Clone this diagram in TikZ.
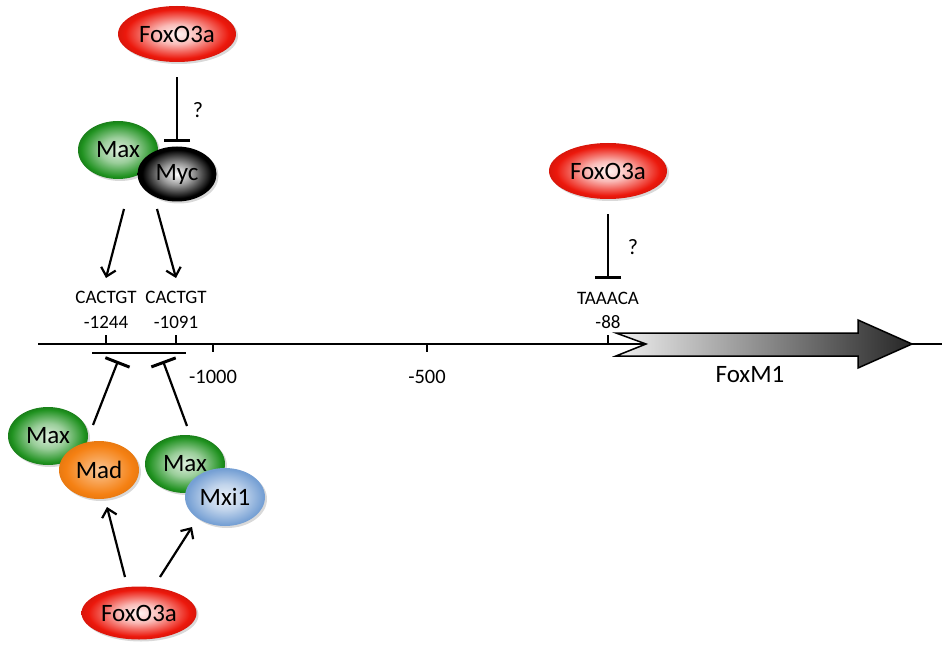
\documentclass[tikz,border=0pt]{standalone}
\usepackage{fontspec}
\setmainfont{Carlito}
\usetikzlibrary{positioning,calc}
\usetikzlibrary{shapes.geometric}
\usetikzlibrary{shadows}
\usetikzlibrary{arrows.meta}

\definecolor{foxred}{RGB}{236,24,12}
\definecolor{maxgreen}{RGB}{30,145,30}
\definecolor{madorange}{RGB}{245,128,18}
\definecolor{mxiblue}{RGB}{118,160,212}

% soft glow in the middle of each protein
\pgfdeclareradialshading{redglow}{\pgfpointorigin}{color(0bp)=(foxred!5!white);
   color(9bp)=(foxred!30!white); color(22bp)=(foxred); color(25bp)=(foxred!92!black);
   color(50bp)=(foxred!92!black)}
\pgfdeclareradialshading{blackglow}{\pgfpointorigin}{color(0bp)=(white);
   color(10bp)=(black!40); color(22bp)=(black); color(50bp)=(black)}
\pgfdeclareradialshading{greenglow}{\pgfpointorigin}{color(0bp)=(maxgreen!15!white);
   color(11bp)=(maxgreen!45!white); color(23bp)=(maxgreen); color(25bp)=(maxgreen!88!black);
   color(50bp)=(maxgreen!88!black)}
\pgfdeclareradialshading{orangeglow}{\pgfpointorigin}{color(0bp)=(madorange!45!white);
   color(21bp)=(madorange); color(25bp)=(madorange!95!black); color(50bp)=(madorange!95!black)}
\pgfdeclareradialshading{blueglow}{\pgfpointorigin}{color(0bp)=(mxiblue!15!white);
   color(11bp)=(mxiblue!45!white); color(24bp)=(mxiblue); color(50bp)=(mxiblue)}

\tikzset{
   prot/.style={ellipse, inner sep=0pt, minimum width=80pt, minimum height=58pt,
      font=\fontsize{25}{29}\selectfont,
      drop shadow={shadow xshift=2pt, shadow yshift=-2pt, opacity=0.3}},
   fox/.style={prot, minimum width=118pt, minimum height=56pt, shading=redglow},
   maxp/.style={prot, shading=greenglow},
   mycp/.style={prot, minimum width=79pt, minimum height=55pt, shading=blackglow},
   madp/.style={prot, shading=orangeglow},
   mxip/.style={prot, shading=blueglow},
   act/.style={line width=2.2pt, -{Straight Barb[length=8pt,width=15pt]}},
   inhib/.style={line width=2.2pt, -{Bar[width=26pt,line width=3pt]}},
   site/.style={font=\fontsize{19}{22}\selectfont, inner sep=0pt},
   bplabel/.style={font=\fontsize{20.5}{24}\selectfont, inner sep=0pt},
   ln/.style={line width=1.8pt},
}

\begin{document}
\begin{tikzpicture}[x=1pt, y=-1pt, on grid]
   \useasboundingbox (0,0) rectangle (945,655);

   % promoter line
   \coordinate (l0) at (38,344);
   \coordinate (l1) at (942,344);
   \draw[ln] (l0) -- (l1);
   \foreach \x in {106,176,608}
      \draw[ln] (\x,344) -- (\x,335);
   \foreach \x in {213,427}
      \draw[ln] (\x,344) -- (\x,352);
   \draw[ln] (92,353) -- (186,353);

   % FoxM1 gene
   \draw[line width=1.5pt, left color=gray!12, right color=black!85]
      (616,333) -- (858,333) -- (858,320) -- (912,344) -- (858,368)
      -- (858,356) -- (616,356) -- (646,344) -- cycle;
   \node[font=\fontsize{25}{29}\selectfont] (gene) at (750,375) {FoxM1};

   % positions
   \node[bplabel] (k1) at (213,377) {-1000};
   \node[bplabel] (k2) at (427,377) {-500};

   \node[site]                  (s1) at (106,297) {CACTGT};
   \node[site, below=25pt of s1] (p1) {-1244};
   \node[site, right=70pt of s1] (s2) {CACTGT};
   \node[site, below=25pt of s2] (p2) {-1091};
   \node[site]                  (s3) at (608,298) {TAAACA};
   \node[site, below=24pt of s3] (p3) {-88};

   % Max/Myc on the E-boxes
   \node[maxp] (max1) at (118,150) {Max};
   \node[mycp, below right=24pt and 59pt of max1] (myc) {Myc};
   \node[fox, above=140pt of myc] (fox1) {FoxO3a};
   \node[font=\fontsize{22}{26}\selectfont, above right=64pt and 21pt of myc] (q1) {?};

   \coordinate (a1) at (124,209);
   \coordinate (a2) at (157,209);
   \coordinate[above=19pt of s1] (b1);
   \coordinate[above=19pt of s2] (b2);
   \draw[act] (a1) -- (b1);
   \draw[act] (a2) -- (b2);
   \draw[inhib, shorten <=15pt, shorten >=4pt] (fox1.south) -- (myc.north);

   % FoxO3a on the FHRE
   \node[fox] (fox3) at (608,171) {FoxO3a};
   \node[font=\fontsize{22}{26}\selectfont, above right=51pt and 25pt of s3] (q3) {?};
   \coordinate[above=19pt of s3] (b3);
   \draw[inhib, shorten <=15pt] (fox3.south) -- (b3);

   % Max/Mad and Max/Mxi1 repressors
   \node[maxp] (max2) at (48,436) {Max};
   \node[madp, below right=34pt and 51pt of max2] (mad) {Mad};
   \node[maxp] (max3) at (185,464) {Max};
   \node[mxip, below right=33pt and 40pt of max3] (mxi) {Mxi1};
   \node[fox, minimum width=115pt, minimum height=53pt] (fox2) at (139,613) {FoxO3a};

   \coordinate (c1) at (93,425);
   \coordinate (c2) at (187,426);
   \coordinate (d1) at (118,361);
   \coordinate (d2) at (163,361);
   \draw[inhib] (c1) -- (d1);
   \draw[inhib] (c2) -- (d2);

   \coordinate (e1) at (125,577);
   \coordinate (e2) at (160,577);
   \draw[act] (e1) -- (107,507);
   \draw[act] (e2) -- (192,527);
\end{tikzpicture}
\end{document}
